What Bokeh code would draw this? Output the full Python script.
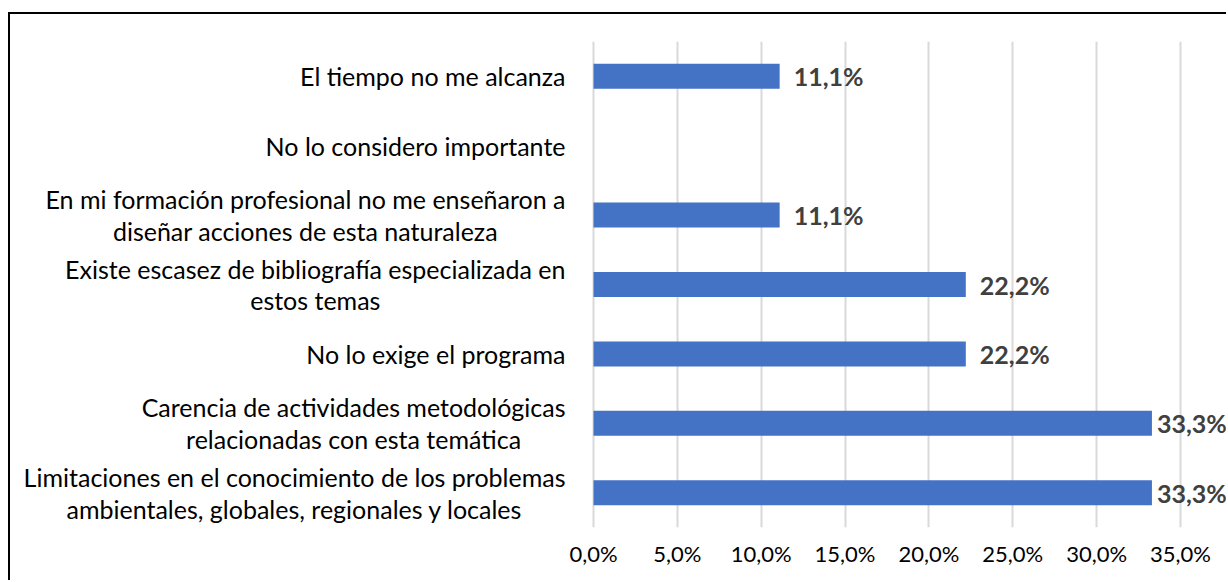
from bokeh.plotting import figure
from bokeh.models import ColumnDataSource, FactorRange, FixedTicker
from bokeh.core.properties import value
from bokeh.embed import file_html
from bokeh.resources import INLINE

categories = [
    "El tiempo no me alcanza",
    "No lo considero importante",
    "En mi formación profesional no me enseñaron a\ndiseñar acciones de esta naturaleza",
    "Existe escasez de bibliografía especializada en\nestos temas",
    "No lo exige el programa",
    "Carencia de actividades metodológicas\nrelacionadas con esta temática",
    "Limitaciones en el conocimiento de los problemas\nambientales, globales, regionales y locales",
]
values = [11.1, 0.0, 11.1, 22.2, 22.2, 33.3, 33.3]
tick_values = [0, 5, 10, 15, 20, 25, 30, 35]
tick_labels = ["0,0%", "5,0%", "10,0%", "15,0%", "20,0%", "25,0%", "30,0%", "35,0%"]

FONT = "Lato"

W, H = 1218, 568
PX_PER_UNIT = 16.77
LEFT_PX = 583
LABEL_W = 72  # approx pixel width of a value label

src = ColumnDataSource(dict(cat=categories, val=values, zero=[0.0] * len(values)))
lab_cats = [c for c, v in zip(categories, values) if v > 0]
lab_vals = [v for v in values if v > 0]
# keep labels inside the chart: use a smaller gap where the bar reaches the edge
lab_off = [14 if LEFT_PX + v * PX_PER_UNIT + 14 + LABEL_W <= W else 5 for v in lab_vals]
lab_src = ColumnDataSource(dict(cat=lab_cats, val=lab_vals, off=lab_off,
                                txt=[f"{v:.1f}".replace(".", ",") + "%" for v in lab_vals]))

p = figure(
    width=W, height=H,
    y_range=FactorRange(factors=list(reversed(categories)), range_padding=0),
    x_range=(-LEFT_PX / PX_PER_UNIT, (W - LEFT_PX) / PX_PER_UNIT),
    output_backend="svg", toolbar_location=None,
    min_border_left=0, min_border_right=0, min_border_top=27, min_border_bottom=55,
)
p.margin = (12, 0, 0, 8)
p.styles = {"border-top": "2px solid #000000", "border-left": "2px solid #000000"}
p.outline_line_color = None
p.background_fill_color = "white"
p.border_fill_color = "white"

p.hbar(y="cat", right="val", left=0, height=0.36, source=src,
       fill_color="#4472C4", line_color=None)

# value labels
p.text(x="val", y="cat", text="txt", source=lab_src, x_offset="off",
       text_align="left", text_baseline="middle",
       text_font=value(FONT), text_font_size="25px", text_font_style="bold",
       text_color="#404040")

# category labels (right-anchored block, centred lines)
p.text(x="zero", y="cat", text="cat", source=src, x_offset=-28, y_offset=0,
       anchor="center_right", text_align="center", text_baseline="middle",
       text_font=value(FONT), text_font_size="25px", text_color="#000000",
       text_line_height=1.06)

p.xaxis.ticker = FixedTicker(ticks=tick_values)
p.xaxis.major_label_overrides = {t: l for t, l in zip(tick_values, tick_labels)}
p.xaxis.axis_line_color = None
p.xaxis.major_tick_line_color = None
p.xaxis.minor_tick_line_color = None
p.xaxis.major_label_text_font = FONT
p.xaxis.major_label_text_font_size = "22px"
p.xaxis.major_label_text_color = "#000000"
p.xaxis.major_label_standoff = 6

p.yaxis.visible = False

p.xgrid.ticker = FixedTicker(ticks=tick_values)
p.xgrid.grid_line_color = "#d9d9d9"
p.xgrid.grid_line_width = 2
p.ygrid.grid_line_color = None

open("out.html", "w").write(file_html(p, INLINE))
